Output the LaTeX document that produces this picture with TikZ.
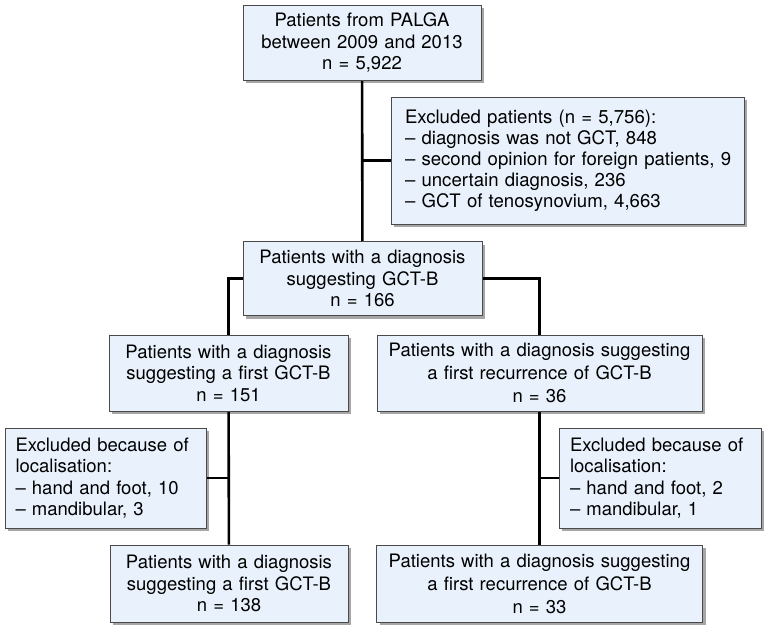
\documentclass[tikz,border=0pt]{standalone}
\usepackage{fontspec}
\setmainfont{TeX Gyre Heros}
\usetikzlibrary{shadows,backgrounds}
\definecolor{boxfill}{HTML}{E9F2FC}
\definecolor{boxline}{HTML}{4A4A4A}
\tikzset{
  box/.style={draw=boxline, line width=0.9pt, fill=boxfill, rectangle, inner sep=0pt,
    drop shadow={shadow xshift=3pt, shadow yshift=-3pt, opacity=0.35, fill=black},
    font=\fontsize{18.5}{21.5}\selectfont, align=center},
  lbox/.style={box, align=left},
  conn/.style={line width=2.6pt, black},
}
\begin{document}
\begin{tikzpicture}[x=1pt,y=-1pt]
\useasboundingbox (0,0) rectangle (775,636);
\node[box, minimum width=238, minimum height=75, text width=236] (top) at (362,42.5)
  {Patients from PALGA\\between 2009 and 2013\\n = 5,922};
\node[lbox, minimum width=353, minimum height=127, text width=325,
  font=\fontsize{18.6}{21}\selectfont] (ex1) at (567.5,160.5)
  {\mbox{Excluded patients (n = 5,756):}\\\mbox{– diagnosis was not GCT, 848}\\\mbox{– second opinion for foreign patients, 9}\\\mbox{– uncertain diagnosis, 236}\\\mbox{– GCT of tenosynovium, 4,663}};
\node[box, minimum width=239, minimum height=74, text width=237] (mid) at (362.5,278.5)
  {Patients with a diagnosis\\suggesting GCT-B\\n = 166};
\node[box, minimum width=239, minimum height=76, text width=237] (l2) at (228.5,373)
  {Patients with a diagnosis\\suggesting a first GCT-B\\n = 151};
\node[box, minimum width=325, minimum height=76, text width=323,
  font=\fontsize{18.5}{23}\selectfont] (r2) at (539.5,373)
  {Patients with a diagnosis suggesting\\a first recurrence of GCT-B\\n = 36};
\node[lbox, minimum width=201, minimum height=100, text width=180] (exl) at (105.5,478)
  {Excluded because of\\localisation:\\– hand and foot, 10\\– mandibular, 3};
\node[lbox, minimum width=202, minimum height=100, text width=180] (exr) at (660,478)
  {Excluded because of\\localisation:\\– hand and foot, 2\\– mandibular, 1};
\node[box, minimum width=238, minimum height=77, text width=236] (l3) at (229,583.5)
  {Patients with a diagnosis\\suggesting a first GCT-B\\n = 138};
\node[box, minimum width=326, minimum height=77, text width=324,
  font=\fontsize{18.5}{23}\selectfont] (r3) at (539.5,583.5)
  {Patients with a diagnosis suggesting\\a first recurrence of GCT-B\\n = 33};
\begin{scope}[on background layer]
\draw[conn] (top) -- (mid);
\draw[conn] (top |- ex1.west) -- (ex1.west);
\draw[conn] (mid.west) -| (l2.north);
\draw[conn] (mid.east) -| (r2.north);
\draw[conn] (l2) -- (l3);
\draw[conn] (l2 |- exl.east) -- (exl.east);
\draw[conn] (r2) -- (r3);
\draw[conn] (r3 |- exr.west) -- (exr.west);
\end{scope}
\end{tikzpicture}
\end{document}
